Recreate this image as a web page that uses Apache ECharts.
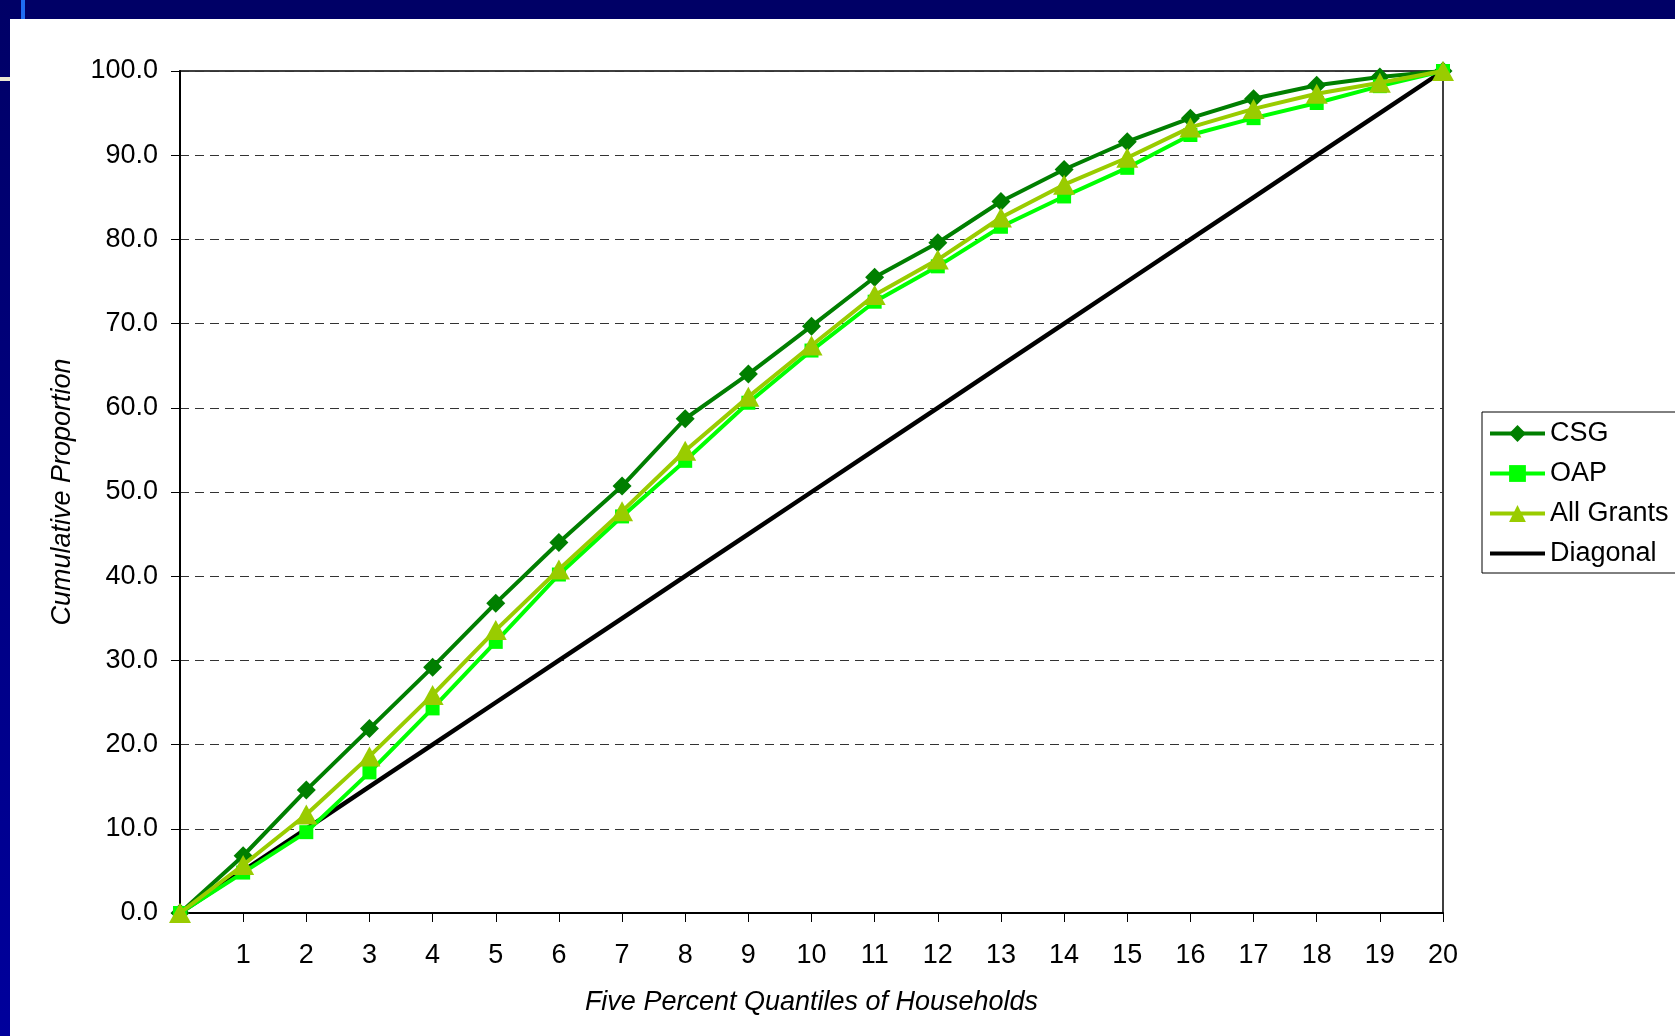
<!DOCTYPE html>
<html>
<head>
<meta charset="utf-8">
<title>Cumulative Proportion by Five Percent Quantiles</title>
<script src="https://cdn.jsdelivr.net/npm/echarts@6/dist/echarts.min.js"></script>
<style>
  html, body { margin: 0; padding: 0; background: #ffffff; }
  #chart { width: 1675px; height: 1036px; }
</style>
</head>
<body>
<div id="chart"></div>
<script>
// Five percent quantiles of households (0 = origin)
const quantiles = [0, 1, 2, 3, 4, 5, 6, 7, 8, 9, 10, 11, 12, 13, 14, 15, 16, 17, 18, 19, 20];

// Cumulative proportion of grant income per quantile
const csgValues = [0.0, 6.8, 14.6, 21.9, 29.2, 36.8, 44.0, 50.7, 58.7, 64.0, 69.7, 75.5, 79.6, 84.5, 88.3, 91.6, 94.4, 96.7, 98.3, 99.3, 100.0];
const oapValues = [0.0, 4.8, 9.6, 16.7, 24.3, 32.2, 40.2, 47.1, 53.7, 60.6, 66.8, 72.6, 76.8, 81.5, 85.1, 88.5, 92.4, 94.4, 96.2, 98.2, 100.0];
const allGrantsValues = [0.0, 5.7, 11.7, 18.6, 25.9, 33.6, 40.8, 47.7, 54.9, 61.3, 67.4, 73.4, 77.6, 82.6, 86.5, 89.7, 93.3, 95.5, 97.3, 98.6, 100.0];
const diagonalValues = [0, 5, 10, 15, 20, 25, 30, 35, 40, 45, 50, 55, 60, 65, 70, 75, 80, 85, 90, 95, 100];

const seriesNames = ['CSG', 'OAP', 'All Grants', 'Diagonal'];

const FONT = '"Liberation Sans", Arial, Helvetica, sans-serif';
const FONT_SIZE = 27;

function pairs(values) {
  return quantiles.map((q, i) => [q, values[i]]);
}

const chart = echarts.init(document.getElementById('chart'), null, { renderer: 'canvas' });

chart.setOption({
  animation: false,
  backgroundColor: '#ffffff',
  textStyle: { fontFamily: FONT },
  graphic: [
    // slide frame: dark band along the top and a strip down the left
    { type: 'rect', left: 0, top: 0, z: 100, shape: { width: 1675, height: 19 }, style: { fill: '#000066' } },
    {
      type: 'rect', left: 0, top: 0, z: 100, shape: { width: 10, height: 1036 },
      style: {
        fill: new echarts.graphic.LinearGradient(0, 0, 0, 1, [
          { offset: 0, color: '#000066' },
          { offset: 1, color: '#00009c' }
        ])
      }
    },
    { type: 'rect', left: 21, top: 0, z: 101, shape: { width: 4, height: 19 }, style: { fill: '#1f6cf2' } },
    { type: 'rect', left: 0, top: 77, z: 101, shape: { width: 10, height: 4 }, style: { fill: '#ece8d2' } }
  ],
  grid: {
    left: 180,
    top: 71,
    right: 232,
    bottom: 123,
    show: true,
    borderColor: '#000000',
    borderWidth: 1.5,
    backgroundColor: 'transparent'
  },
  legend: {
    data: [
      seriesNames[0],
      seriesNames[1],
      seriesNames[2],
      // plain line for the reference diagonal, no marker
      { name: seriesNames[3], itemStyle: { opacity: 0 } }
    ],
    orient: 'vertical',
    left: 1482,
    top: 412,
    itemWidth: 55,
    itemHeight: 21,
    itemGap: 13,
    padding: [8, 40, 6, 6],
    borderColor: '#000000',
    borderWidth: 1,
    backgroundColor: '#ffffff',
    lineStyle: { width: 4 },
    textStyle: { fontFamily: FONT, fontSize: FONT_SIZE, color: '#000000' }
  },
  xAxis: {
    type: 'value',
    min: 0,
    max: 20,
    interval: 1,
    name: 'Five Percent Quantiles of Households',
    nameLocation: 'middle',
    nameGap: 76,
    nameTextStyle: { fontFamily: FONT, fontSize: FONT_SIZE, fontStyle: 'italic', color: '#000000' },
    axisLine: { show: true, onZero: false, lineStyle: { color: '#000000', width: 2 } },
    axisTick: { show: true, inside: false, length: 9, lineStyle: { color: '#000000', width: 1 } },
    axisLabel: {
      margin: 29,
      fontFamily: FONT,
      fontSize: FONT_SIZE,
      color: '#000000',
      formatter: v => (v === 0 ? '' : String(v))
    },
    splitLine: { show: false }
  },
  yAxis: {
    type: 'value',
    min: 0,
    max: 100,
    interval: 10,
    name: 'Cumulative Proportion',
    nameLocation: 'middle',
    nameGap: 104,
    nameTextStyle: { fontFamily: FONT, fontSize: FONT_SIZE, fontStyle: 'italic', color: '#000000' },
    axisLine: { show: true, lineStyle: { color: '#000000', width: 2 } },
    axisTick: { show: true, inside: false, length: 9, lineStyle: { color: '#000000', width: 1 } },
    axisLabel: {
      margin: 22,
      fontFamily: FONT,
      fontSize: FONT_SIZE,
      color: '#000000',
      formatter: v => v.toFixed(1)
    },
    splitLine: {
      show: true,
      lineStyle: { color: '#333333', width: 1, type: [9, 6] }
    }
  },
  series: [
    {
      name: 'Diagonal',
      type: 'line',
      z: 2,
      data: pairs(diagonalValues),
      symbol: 'none',
      lineStyle: { color: '#000000', width: 4.5 },
      itemStyle: { color: '#000000' }
    },
    {
      name: 'CSG',
      type: 'line',
      z: 3,
      data: pairs(csgValues),
      symbol: 'diamond',
      symbolSize: 19,
      showAllSymbol: true,
      lineStyle: { color: '#007f00', width: 4 },
      itemStyle: { color: '#007f00' }
    },
    {
      name: 'OAP',
      type: 'line',
      z: 4,
      data: pairs(oapValues),
      symbol: 'rect',
      symbolSize: 14,
      showAllSymbol: true,
      lineStyle: { color: '#00ff00', width: 4 },
      itemStyle: { color: '#00ff00' }
    },
    {
      name: 'All Grants',
      type: 'line',
      z: 5,
      data: pairs(allGrantsValues),
      symbol: 'triangle',
      symbolSize: [22, 20],
      showAllSymbol: true,
      lineStyle: { color: '#99cc00', width: 4 },
      itemStyle: { color: '#99cc00' }
    }
  ]
});
</script>
</body>
</html>
